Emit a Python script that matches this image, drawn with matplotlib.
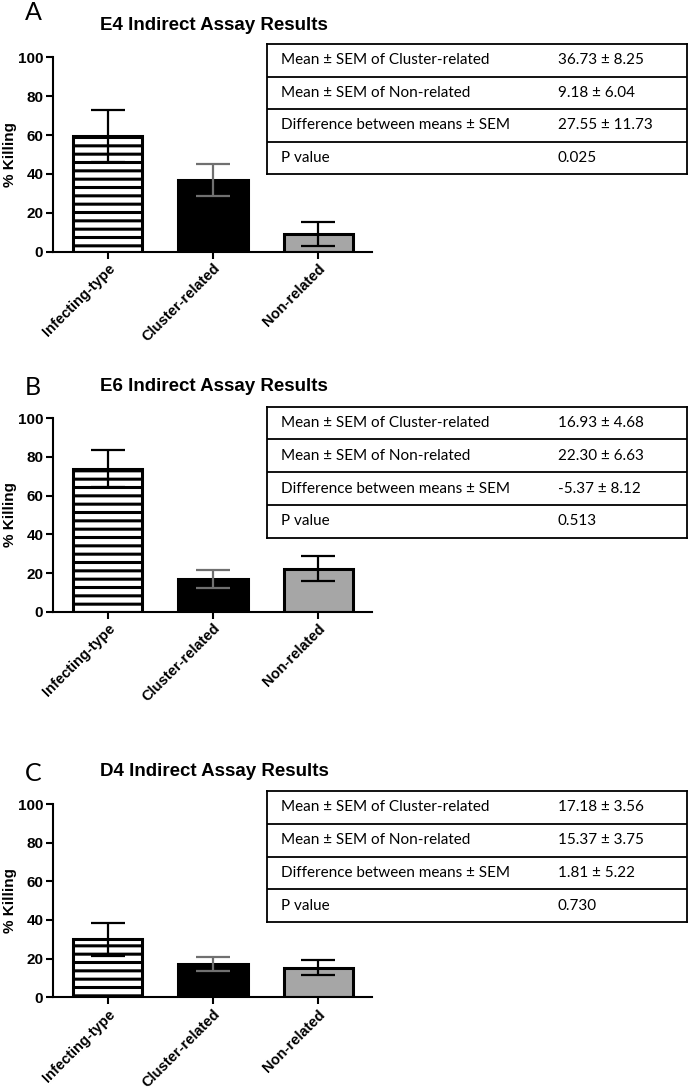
import matplotlib.pyplot as plt
import numpy as np

plt.rcParams['hatch.linewidth'] = 2.2

groups = ['Infecting-type', 'Cluster-related', 'Non-related']
panels = ['A', 'B', 'C']
titles = ['E4 Indirect Assay Results', 'E6 Indirect Assay Results', 'D4 Indirect Assay Results']

# bar means and SEM per panel (infecting-type)
means = [[59.5, 36.73, 9.18],
         [74.0, 16.93, 22.30],
         [30.0, 17.18, 15.37]]
sems = [[13.2, 8.25, 6.04],
        [9.5, 4.68, 6.63],
        [8.5, 3.56, 3.75]]

row_labels = ['Mean \u00b1 SEM of Cluster-related',
              'Mean \u00b1 SEM of Non-related',
              'Difference between means \u00b1 SEM',
              'P value']
table_vals = [['36.73 \u00b1 8.25', '9.18 \u00b1 6.04', '27.55 \u00b1 11.73', '0.025'],
              ['16.93 \u00b1 4.68', '22.30 \u00b1 6.63', '-5.37 \u00b1 8.12', '0.513'],
              ['17.18 \u00b1 3.56', '15.37 \u00b1 3.75', '1.81 \u00b1 5.22', '0.730']]

yticks = [0, 20, 40, 60, 80, 100]

W, H = 688, 1089
fig = plt.figure(figsize=(W / 100, H / 100), dpi=100)

# pixel layout: (y of 100, y of 0), table (top, bottom), title y, letter top y
ax_px = [(57.3, 251.7), (418.3, 611.7), (804.0, 997.3)]
tab_px = [(44, 174), (406.7, 537.7), (790.7, 922.3)]
title_y = [25, 387, 771]
letter_y = [1, 376, 762]

bar_colors = ['white', 'black', '#a6a6a6']
err_colors = ['black', '#707070', 'black']
hatches = ['--', None, None]
bold = dict(fontweight='bold', family='Liberation Sans')

for i in range(3):
    top, bot = ax_px[i]
    ax = fig.add_axes([53 / W, 1 - bot / H, (372 - 53) / W, (bot - top) / H])
    x = np.arange(len(groups))
    for j in range(3):
        ax.bar(x[j], means[i][j], width=0.66, color=bar_colors[j], edgecolor='black',
               linewidth=2.2, hatch=hatches[j], zorder=2)
        ax.errorbar(x[j], means[i][j], yerr=sems[i][j], color=err_colors[j],
                    elinewidth=1.6, capsize=12.5, capthick=1.6, zorder=3)
    ax.set_xlim(-0.52, 2.51)
    ax.set_ylim(0, 100)
    ax.set_yticks(yticks)
    ax.set_xticks(x)
    ax.set_xticklabels(groups, rotation=45, ha='right', va='top',
                       rotation_mode='anchor', fontsize=10.5, **bold)
    for lab in ax.get_yticklabels():
        lab.set_fontsize(11)
        lab.set_fontweight('bold')
        lab.set_family('Liberation Sans')
    ax.set_ylabel('% Killing', fontsize=11, **bold)
    ax.yaxis.set_label_coords(-36 / (372 - 53), 0.5)
    for s in ['top', 'right']:
        ax.spines[s].set_visible(False)
    for s in ['left', 'bottom']:
        ax.spines[s].set_linewidth(1.5)
    ax.tick_params(axis='both', width=1.5, length=5, pad=2)
    ax.patch.set_alpha(0)

    fig.text(214 / W, 1 - title_y[i] / H, titles[i], ha='center', va='center',
             fontsize=13.5, **bold)
    fig.text(25 / W, 1 - letter_y[i] / H, panels[i], ha='left', va='top',
             fontsize=18, family='Lato')

    # stats table
    ttop, tbot = tab_px[i]
    tx = fig.add_axes([267 / W, 1 - tbot / H, (687 - 267) / W, (tbot - ttop) / H])
    tx.set_xlim(0, 1)
    tx.set_ylim(len(row_labels), 0)
    tx.set_xticks([])
    tx.set_yticks([])
    for s in tx.spines.values():
        s.set_linewidth(1.3)
    for r in range(1, len(row_labels)):
        tx.axhline(r, color='black', linewidth=1.3)
    for r, lab in enumerate(row_labels):
        tx.text(14 / 420, r + 0.5, lab, ha='left', va='center', fontsize=11, family='Lato')
        tx.text(291 / 420, r + 0.5, table_vals[i][r], ha='left', va='center',
                fontsize=11, family='Lato')

fig.savefig('out.png', dpi=100)
